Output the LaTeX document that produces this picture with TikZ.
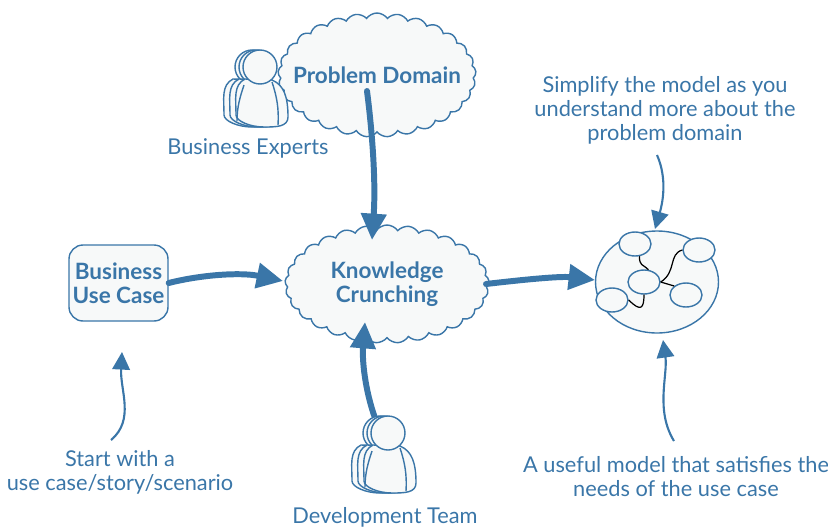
\documentclass[tikz,border=0pt]{standalone}
\usepackage{fontspec}
\setmainfont{Lato}
\usetikzlibrary{arrows.meta,positioning,shapes.geometric,shapes.symbols}
\definecolor{bookblue}{HTML}{3A76A8}
\definecolor{paleblue}{HTML}{F7F9F9}
\tikzset{
  puff/.style={
    cloud,
    cloud puffs=29,
    cloud puff arc=110,
    aspect=1.75,
    draw=bookblue, thick,
    fill=paleblue,
    text=bookblue,
    align=center,
    inner sep=0pt,
    font=\fontsize{12.8}{13.6}\selectfont\bfseries},
  usecase/.style={
    rectangle,
    rounded corners=8pt,
    draw=bookblue, thick,
    fill=paleblue,
    text=bookblue,
    align=center,
    minimum width=99*0.02cm,
    minimum height=76*0.02cm,
    inner sep=0pt,
    font=\fontsize{12.8}{13.6}\selectfont\bfseries},
  caption/.style={
    text=bookblue,
    align=center,
    inner sep=0pt,
    font=\fontsize{12.4}{13.6}\selectfont},
  part/.style={
    ellipse,
    draw=bookblue, thick,
    fill=paleblue,
    minimum width=32*0.02cm,
    minimum height=24*0.02cm,
    inner sep=0pt},
  modelbox/.style={
    ellipse,
    draw=bookblue, thick,
    fill=paleblue,
    minimum width=123*0.02cm,
    minimum height=102*0.02cm,
    inner sep=0pt},
  bigline/.style={
    draw=bookblue,
    line width=3.4pt,
    line cap=round,
    -{Triangle[length=15pt,width=14pt]}},
  smallline/.style={
    draw=bookblue,
    line width=1.2pt,
    -{Triangle[length=10pt,width=10pt]}},
  wire/.style={draw=black, line width=0.7pt},
  pics/person/.style={
    code={
      \foreach \shift/\headshift in {-12/-8,-6/-4,0/0}{
        \draw[bookblue, thick, fill=paleblue, shift={(\shift,0)}]
          (-15,12) .. controls (-27,18) and (-24,32) .. (-24,48)
          .. controls (-24,54) and (-10,60) .. (4,60)
          .. controls (16,60) and (28,60) .. (28,50)
          .. controls (28,30) and (24,18) .. (12,13) -- cycle;
        \draw[bookblue, thick, fill=paleblue] (\headshift,0) circle[radius=17];
      }
      \draw[bookblue, thick] (-16,18) .. controls (-20,30) and (-23,40) .. (-23,54);
      \draw[bookblue, thick] (12,15) .. controls (17,30) and (19,42) .. (18,58);
    }},
}

\begin{document}
\begin{tikzpicture}[x=0.02cm,y=-0.02cm]
  \useasboundingbox (0,0) rectangle (828,528);

  \node[puff, inner xsep=-9pt, minimum width=198*0.02cm, minimum height=124*0.02cm] (domain) at (377,75) {Problem Domain};
  \pic at (260,67) {person};
  \node[caption] (experts) at (248,148) {Business Experts};

  \node[puff, minimum width=204*0.02cm, minimum height=118*0.02cm] (crunching) at (387,284) {Knowledge\\Crunching};
  \node[usecase] (case) at (118.5,283) {Business\\Use Case};

  \node[modelbox] (model) at (657,282) {};
  \node[part] (parta) at (635,244) {};
  \node[part] (partb) at (699,250) {};
  \node[part] (partc) at (644,282) {};
  \node[part] (partd) at (686,295) {};
  \node[part] (parte) at (612,300) {};
  \draw[wire] (parta.290) .. controls +(0,10) and +(-6,-6) .. (partc.70);
  \draw[wire] (partc.east) .. controls +(16,-10) and +(-14,4) .. (partb.west);
  \draw[wire] (partc.east) -- (partd.north west);
  \draw[wire] (parte.east) .. controls +(12,12) and +(0,14) .. (partc.south);

  % free ends of the connectors
  \coordinate (domainout) at (367,91);
  \coordinate (crunchtop) at (372,240);
  \coordinate (crunchleft) at (283,281);
  \coordinate (crunchright) at (486,284);
  \coordinate (crunchbottom) at (365,322);
  \coordinate (teamout) at (375,418);
  \coordinate (casetext) at (111,440);
  \coordinate (casebottom) at (122,352);
  \coordinate (simplifyout) at (657,155);
  \coordinate (modeltop) at (655,229);
  \coordinate (usefulout) at (674,441);
  \coordinate (modelbottom) at (663,340);

  \draw[bigline] (domainout) .. controls (372,130) and (376,180) .. (crunchtop);
  \draw[bigline] (case.east) .. controls (200,275) and (240,272) .. (crunchleft);
  \draw[bigline] (crunchright) .. controls (520,280) and (560,276) .. (595,280);
  \draw[bigline] (teamout) .. controls (365,390) and (362,360) .. (crunchbottom);

  \draw[smallline] (casetext) .. controls (135,420) and (120,390) .. (casebottom);
  \draw[smallline] (simplifyout) .. controls (668,180) and (662,205) .. (modeltop);
  \draw[smallline] (usefulout) .. controls (655,410) and (668,375) .. (modelbottom);

  \pic at (388,433) {person};
  \node[caption] (team) at (385,517) {Development Team};

  \node[caption] (simplify) at (665,110) {Simplify the model as you\\understand more about the\\problem domain};
  \node[caption] (start) at (120,472) {Start with a\\use case/story/scenario};
  \node[caption] (useful) at (676,477) {A useful model that satisfies the\\needs of the use case};
\end{tikzpicture}
\end{document}
